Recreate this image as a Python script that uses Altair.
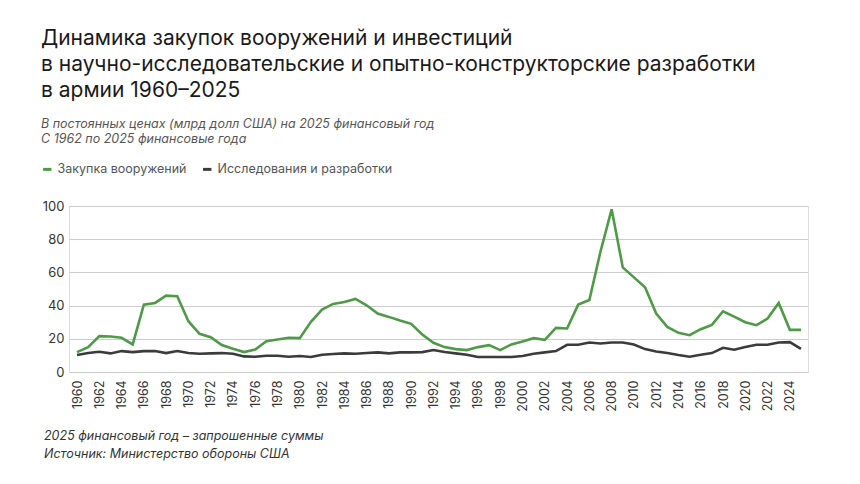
import altair as alt
import pandas as pd

years = list(range(1960, 2026))

procurement = [12, 15, 21.6, 21.4, 20.6, 16.6, 40.6, 41.6, 46, 45.6,
               30.6, 23, 21, 16.2, 14, 12, 13.6, 18.6, 19.6, 20.6,
               20.4, 30.2, 37.6, 41, 42.2, 44, 40.2, 35.2, 33.2, 31,
               29, 22.6, 17.6, 15, 13.8, 13.2, 15, 16.2, 13.2, 16.6,
               18.4, 20.4, 19.4, 26.6, 26.2, 40.6, 43.4, 72.6, 98, 63,
               57, 51, 35.2, 27.2, 23.6, 22.2, 25.8, 28.4, 36.6, 33.4,
               30, 28.2, 32.2, 41.6, 25.4, 25.4]

rnd = [10.2, 11.4, 12.2, 11.2, 12.6, 12, 12.6, 12.6, 11.4, 12.6,
       11.4, 11, 11.2, 11.4, 11, 9.4, 9.2, 9.8, 9.8, 9.2,
       9.6, 9, 10.4, 10.8, 11.2, 11, 11.4, 11.8, 11.2, 11.8,
       11.8, 12, 13.2, 12, 11.2, 10.4, 9, 9, 9, 9,
       9.6, 11, 11.8, 12.6, 16.4, 16.4, 17.8, 17.2, 17.8, 17.8,
       16.6, 13.8, 12.4, 11.4, 10.2, 9.2, 10.4, 11.4, 14.6, 13.4,
       15, 16.4, 16.4, 17.8, 18, 14]

series_names = ["Закупка вооружений", "Исследования и разработки"]
series_colors = ["#4f9a47", "#3b3b3b"]

title_lines = [
    "Динамика закупок вооружений и инвестиций",
    "в научно-исследовательские и опытно-конструкторские разработки",
    "в армии 1960–2025",
]
subtitle_lines = [
    "В постоянных ценах (млрд долл США) на 2025 финансовый год",
    "С 1962 по 2025 финансовые года",
]
footer_lines = [
    "2025 финансовый год – запрошенные суммы",
    "Источник: Министерство обороны США",
]
x_ticks = list(range(1960, 2025, 2))
y_ticks = [0, 20, 40, 60, 80, 100]

FONT = "Inter"

df = pd.DataFrame({
    "year": years * 2,
    "value": procurement + rnd,
    "series": [series_names[0]] * len(years) + [series_names[1]] * len(years),
})

lines = alt.Chart(df).mark_line(strokeWidth=2.6).encode(
    x=alt.X("year:Q",
            scale=alt.Scale(domain=[1959.28, 2025.63], nice=False, zero=False),
            axis=alt.Axis(values=x_ticks, format="d", labelAngle=270, grid=False,
                          domain=False, ticks=False, labelPadding=8,
                          labelFontSize=12.5, labelColor="#333333", labelFont=FONT,
                          title=None)),
    y=alt.Y("value:Q",
            scale=alt.Scale(domain=[0, 100], nice=False),
            axis=alt.Axis(values=y_ticks, grid=True, gridColor="#cccccc", gridWidth=1,
                          domain=False, ticks=False, labelPadding=5,
                          labelFontSize=13, labelColor="#333333", labelFont=FONT,
                          title=None)),
    color=alt.Color("series:N",
                    scale=alt.Scale(domain=series_names, range=series_colors),
                    legend=alt.Legend(orient="none", legendX=-28, legendY=-43,
                                      direction="horizontal", title=None,
                                      symbolType="stroke", symbolStrokeWidth=3,
                                      symbolSize=70, labelFontSize=12.5,
                                      labelColor="#555555", labelFont=FONT,
                                      labelLimit=0, labelOffset=4, columnPadding=10)),
)

footer_df = pd.DataFrame({"t": ["\n".join(footer_lines)]})
footer = alt.Chart(footer_df).mark_text(
    align="left", baseline="middle", fontSize=12.5, fontStyle="italic",
    font=FONT, color="#333333", lineBreak="\n", lineHeight=18,
).encode(x=alt.value(-25), y=alt.value(230), text="t:N")

chart = alt.layer(lines, footer).properties(
    width=739, height=166,
    autosize=alt.AutoSizeParams(type="none"),
    padding={"left": 69, "top": 206, "right": 52, "bottom": 112},
    title=alt.TitleParams(
        text=title_lines, subtitle=subtitle_lines, anchor="start", frame="bounds",
        fontSize=21, lineHeight=26, font=FONT, fontWeight="normal", color="#1a1a1a",
        subtitleFontSize=12.5, subtitleFontStyle="italic", subtitleFont=FONT,
        subtitleColor="#555555", subtitleLineHeight=15, subtitlePadding=17,
        offset=18,
    ),
).configure_view(stroke=None).configure(background="white")

chart.save("out.html", embed_options={"renderer": "svg", "actions": False})
